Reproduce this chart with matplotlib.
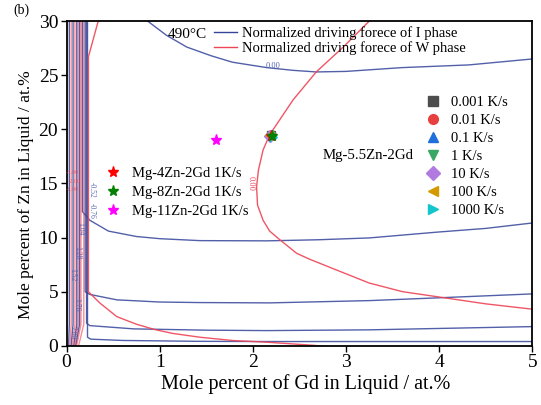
import matplotlib
matplotlib.use("Agg")
import matplotlib.pyplot as plt
from matplotlib.lines import Line2D

plt.rcParams['font.family'] = ['Liberation Serif', 'DejaVu Serif']

# normalized driving force contours of the I phase (blue), Gd / Zn in at.%
i_top_x = [0.87, 1.07, 1.29, 1.55, 1.78, 2.15, 2.43, 2.68, 3.00, 3.60, 4.32, 5.00]
i_top_y = [30.0, 28.7, 27.6, 26.8, 26.2, 25.7, 25.45, 25.3, 25.35, 25.7, 25.95, 26.5]

i_10_x = [0.17, 0.17, 0.25, 0.45, 0.75, 1.00, 1.43, 2.15, 2.70, 3.25, 3.97, 4.50, 5.00]
i_10_y = [30.0, 12.4, 11.6, 10.6, 10.1, 9.9, 9.72, 9.7, 9.8, 9.97, 10.5, 10.85, 11.35]

i_4_x = [0.20, 0.20, 0.25, 0.54, 1.00, 1.43, 2.18, 3.25, 3.97, 5.00]
i_4_y = [30.0, 5.0, 4.75, 4.25, 4.05, 4.0, 3.97, 4.18, 4.43, 4.8]

i_15_x = [0.215, 0.215, 0.25, 0.72, 1.50, 2.15, 3.25, 5.00]
i_15_y = [30.0, 2.1, 1.87, 1.57, 1.45, 1.41, 1.48, 1.78]

i_04_x = [0.225, 0.225, 0.26, 0.60, 1.40, 2.15, 5.00]
i_04_y = [30.0, 0.8, 0.62, 0.5, 0.42, 0.4, 0.4]

i_left_x = [0.03, 0.07, 0.11, 0.14]

# normalized driving force contours of the W phase (red)
w_c_x = [3.25, 2.97, 2.68, 2.43, 2.29, 2.18, 2.11, 2.06, 2.04, 2.05, 2.11, 2.18,
         2.29, 2.47, 2.61, 2.90, 3.25, 3.61, 3.97, 4.50, 5.00]
w_c_y = [30.0, 27.6, 25.3, 22.7, 20.9, 19.5, 18.1, 16.25, 14.7, 13.0, 11.6, 10.6,
         9.8, 8.55, 8.0, 7.0, 5.8, 5.0, 4.55, 3.88, 3.39]

w_low_x = [0.34, 0.235, 0.235, 0.25, 0.36, 0.54, 0.75, 0.95, 1.14, 1.43, 1.79, 2.15, 2.65, 2.85]
w_low_y = [30.0, 26.7, 5.0, 4.87, 3.94, 2.7, 2.0, 1.5, 1.15, 0.8, 0.49, 0.34, 0.05, -0.1]

w_left_x = [0.05, 0.09, 0.125, 0.155, 0.185]

# Mg-5.5Zn-2Gd liquid composition at each cooling rate
rates = ['0.001 K/s', '0.01 K/s', '0.1 K/s', '1 K/s', '10 K/s', '100 K/s', '1000 K/s']
rate_gd = [2.20, 2.19, 2.21, 2.20, 2.18, 2.17, 2.22]
rate_zn = [19.45, 19.5, 19.55, 19.35, 19.4, 19.45, 19.3]
rate_markers = ['s', 'o', '^', 'v', 'D', '<', '>']
rate_colors = ['#4d4d4d', '#e8403f', '#1f6fdc', '#3aa865', '#b07ae0', '#d39a00', '#12c6cc']

alloys = ['Mg-4Zn-2Gd 1K/s', 'Mg-8Zn-2Gd 1K/s', 'Mg-11Zn-2Gd 1K/s']
alloy_gd = [2.19, 2.21, 1.60]
alloy_zn = [19.4, 19.4, 19.0]
alloy_colors = ['red', 'green', 'magenta']

BLUE = '#34449a'
RED = '#ee4455'

fig = plt.figure(figsize=(5.41, 4.05), dpi=100)
ax = fig.add_axes([0.123, 0.146, 0.861, 0.802])

for xs, ys in [(i_top_x, i_top_y), (i_10_x, i_10_y), (i_4_x, i_4_y),
               (i_15_x, i_15_y), (i_04_x, i_04_y)]:
    ax.plot(xs, ys, color=BLUE, lw=1.0, alpha=0.85)
for xv in i_left_x:
    ax.plot([xv, xv, xv * 0.7], [30, 2, 0], color=BLUE, lw=1.0, alpha=0.85)

ax.plot(w_c_x, w_c_y, color=RED, lw=1.0, alpha=0.9)
ax.plot(w_low_x, w_low_y, color=RED, lw=1.0, alpha=0.9)
for xv in w_left_x:
    ax.plot([xv, xv, xv * 0.7], [30, 2, 0], color=RED, lw=1.0, alpha=0.6)

# contour labels
ax.text(2.22, 25.85, '0.00', color='#5566b5', fontsize=6, ha='center', va='center')
ax.text(1.98, 15.0, '0.00', color=RED, fontsize=6, rotation=270, ha='center', va='center')
for s, xv, yv in [('-0.52', 0.27, 14.4), ('-0.76', 0.27, 12.5), ('1.04', 0.15, 10.8),
                  ('1.28', 0.11, 8.6), ('1.52', 0.06, 6.6), ('1.76', 0.10, 3.8),
                  ('2.00', 0.06, 1.2)]:
    ax.text(xv, yv, s, color='#5566b5', fontsize=5.5, rotation=270, ha='center', va='center')
for s, xv, yv in [('-3.00', 0.06, 16.0), ('-2.00', 0.08, 15.2), ('-1.00', 0.06, 14.4)]:
    ax.text(xv, yv, s, color=RED, fontsize=4.5, alpha=0.75, ha='center', va='center')

for gd, zn, m, c in zip(rate_gd, rate_zn, rate_markers, rate_colors):
    ax.plot(gd, zn, m, color=c, ms=6, ls='none')
for gd, zn, c in zip(alloy_gd, alloy_zn, alloy_colors):
    ax.plot(gd, zn, '*', color=c, ms=8, ls='none')

ax.text(1.09, 28.8, '490°C', fontsize=11, va='center')
ax.text(2.75, 17.6, 'Mg-5.5Zn-2Gd', fontsize=10.7, va='center')

line_handles = [Line2D([], [], color=BLUE, lw=1.0), Line2D([], [], color=RED, lw=1.0)]
leg1 = ax.legend(line_handles, ['Normalized driving forece of I phase',
                                'Normalized driving forece of W phase'],
                 loc='upper left', bbox_to_anchor=(0.31, 0.993), frameon=False,
                 fontsize=10.5, handlelength=1.6, handletextpad=0.35,
                 labelspacing=0.1, borderpad=0.2, borderaxespad=0)
ax.add_artist(leg1)

rate_handles = [Line2D([], [], marker=m, color=c, ls='none', ms=7)
                for m, c in zip(rate_markers, rate_colors)]
leg2 = ax.legend(rate_handles, rates, loc='upper left', bbox_to_anchor=(0.772, 0.77),
                 frameon=False, fontsize=10.5, handlelength=1.0, handletextpad=0.7,
                 labelspacing=0.33, borderpad=0, borderaxespad=0)
ax.add_artist(leg2)

alloy_handles = [Line2D([], [], marker='*', color=c, ls='none', ms=8) for c in alloy_colors]
ax.legend(alloy_handles, alloys, loc='upper left', bbox_to_anchor=(0.085, 0.55),
          frameon=False, fontsize=10.5, handlelength=1.0, handletextpad=0.75,
          labelspacing=0.38, borderpad=0, borderaxespad=0)

ax.set_xlim(0, 5)
ax.set_ylim(0, 30)
ax.set_xticks([0, 1, 2, 3, 4, 5])
ax.set_yticks([0, 5, 10, 15, 20, 25, 30])
ax.tick_params(labelsize=14, direction='out', length=4, width=1.0, pad=2)
for sp in ax.spines.values():
    sp.set_linewidth(1.3)
ax.set_xlabel('Mole percent of Gd in Liquid / at.%', fontsize=14.5)
ax.set_ylabel('Mole percent of Zn in Liquid / at.%', fontsize=12.5)
ax.xaxis.set_label_coords(0.514, -0.088)
ax.yaxis.set_label_coords(-0.07, 0.465)

fig.text(0.024, 0.975, '(b)', fontsize=10, va='center')

fig.savefig('out.png', dpi=100)
